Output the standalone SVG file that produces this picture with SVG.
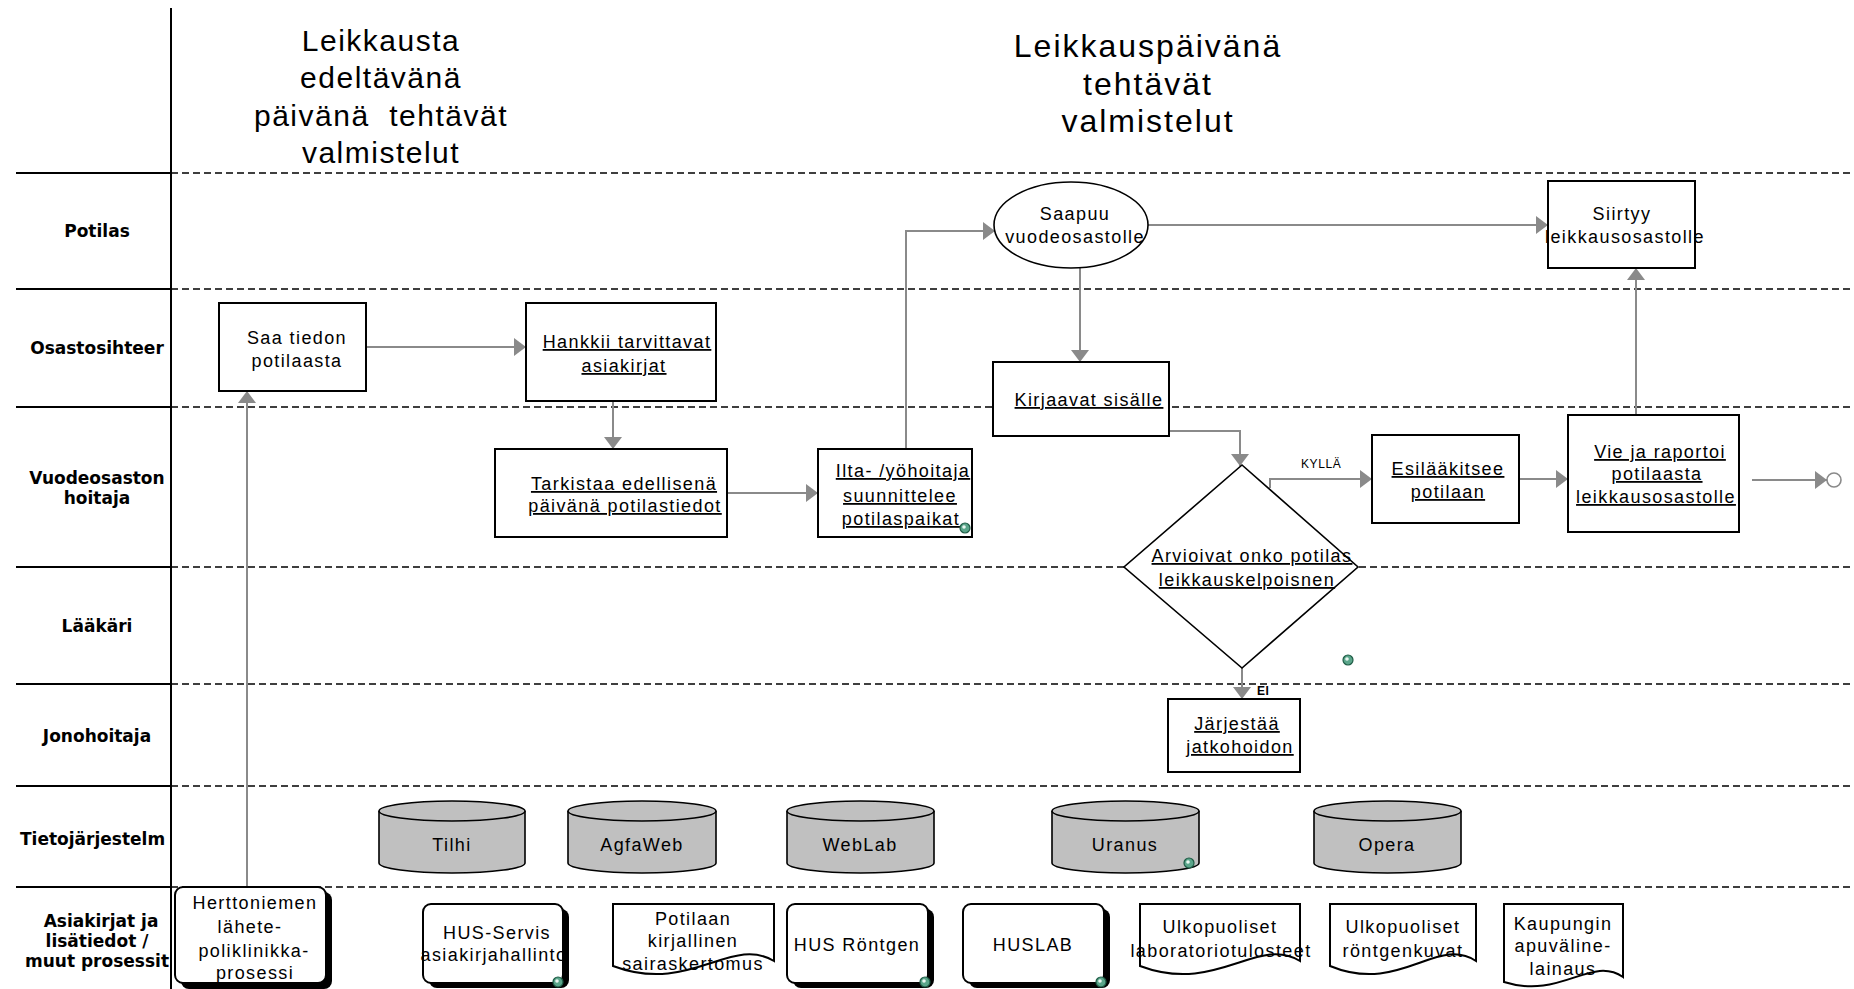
<svg xmlns="http://www.w3.org/2000/svg" width="1854" height="989" viewBox="0 0 1854 989">
  <style>
    .lane { font-family: "DejaVu Sans", "Liberation Sans", sans-serif; font-weight: bold; font-size: 17px; fill: #000; text-anchor: middle; }
    .title { font-family: "Liberation Sans", Arial, sans-serif; font-size: 30px; letter-spacing: 1.5px; fill: #000; text-anchor: middle; }
    .title2 { font-family: "Liberation Sans", Arial, sans-serif; font-size: 32px; letter-spacing: 2px; fill: #000; text-anchor: middle; }
    .t { font-family: "Liberation Sans", Arial, sans-serif; font-size: 18px; letter-spacing: 1.4px; fill: #000; text-anchor: middle; }
    .u { text-decoration: underline; }
    .small { font-family: "Liberation Sans", Arial, sans-serif; font-size: 12px; letter-spacing: 0.6px; fill: #000; }
    .box { fill: #fff; stroke: #000; stroke-width: 2; }
    .cyl { fill: #c0c0c0; stroke: #000; stroke-width: 1.6; }
    .shadow { fill: #000; }
    .solid { stroke: #000; stroke-width: 2; }
    .dash { stroke: #000; stroke-width: 1.6; stroke-dasharray: 7 4; }
    .conn { fill: none; stroke: #8a8a8a; stroke-width: 2; }
  </style>
  <defs>
    <marker id="ah" viewBox="0 0 12 18" refX="12" refY="9" markerWidth="12" markerHeight="18" markerUnits="userSpaceOnUse" orient="auto">
      <path d="M0,0 L12,9 L0,18 Z" fill="#8a8a8a"/>
    </marker>
    <symbol id="ico" viewBox="0 0 12 12">
      <circle cx="6" cy="6" r="5" fill="#5aa58a" stroke="#1f5c46" stroke-width="1.2"/>
      <circle cx="5" cy="5" r="1.8" fill="#e8f6ef"/>
    </symbol>
    <clipPath id="labelClip">
      <rect x="0" y="0" width="170" height="989"/>
    </clipPath>
  </defs>

  <rect x="0" y="0" width="1854" height="989" fill="#fff"/>

  <!-- swimlane grid -->
  <g id="lanes">
    <line class="solid" x1="171" y1="8" x2="171" y2="989"/>
    <line class="solid" x1="16" y1="173" x2="171" y2="173"/>
    <line class="solid" x1="16" y1="289" x2="171" y2="289"/>
    <line class="solid" x1="16" y1="407" x2="171" y2="407"/>
    <line class="solid" x1="16" y1="567" x2="171" y2="567"/>
    <line class="solid" x1="16" y1="684" x2="171" y2="684"/>
    <line class="solid" x1="16" y1="786" x2="171" y2="786"/>
    <line class="solid" x1="16" y1="887" x2="171" y2="887"/>
    <line class="dash" x1="171" y1="173" x2="1854" y2="173"/>
    <line class="dash" x1="171" y1="289" x2="1854" y2="289"/>
    <line class="dash" x1="171" y1="407" x2="1854" y2="407"/>
    <line class="dash" x1="171" y1="567" x2="1854" y2="567"/>
    <line class="dash" x1="171" y1="684" x2="1854" y2="684"/>
    <line class="dash" x1="171" y1="786" x2="1854" y2="786"/>
    <line class="dash" x1="171" y1="887" x2="1854" y2="887"/>
  </g>

  <!-- lane titles -->
  <g id="lane-labels" clip-path="url(#labelClip)">
    <text class="lane" x="97" y="237">Potilas</text>
    <text class="lane" x="97" y="354">Osastosihteer</text>
    <text class="lane" x="97" y="484">Vuodeosaston</text>
    <text class="lane" x="97" y="504">hoitaja</text>
    <text class="lane" x="97" y="632">Lääkäri</text>
    <text class="lane" x="97" y="742">Jonohoitaja</text>
    <text class="lane" x="20" y="845" style="text-anchor:start">Tietojärjestelm</text>
    <text class="lane" x="101" y="927">Asiakirjat ja</text>
    <text class="lane" x="97" y="947">lisätiedot /</text>
    <text class="lane" x="97" y="967">muut prosessit</text>
  </g>

  <!-- phase headings -->
  <g id="phase-1">
    <text class="title" x="381" y="51">Leikkausta</text>
    <text class="title" x="381" y="88">edeltävänä</text>
    <text class="title" x="381" y="126" xml:space="preserve">päivänä  tehtävät</text>
    <text class="title" x="381" y="163">valmistelut</text>
  </g>
  <g id="phase-2">
    <text class="title2" x="1148" y="57">Leikkauspäivänä</text>
    <text class="title2" x="1148" y="95">tehtävät</text>
    <text class="title2" x="1148" y="132">valmistelut</text>
  </g>

  <!-- connectors -->
  <g id="connectors">
    <path class="conn" d="M247,887 V391" marker-end="url(#ah)"/>
    <path class="conn" d="M366,347 H526" marker-end="url(#ah)"/>
    <path class="conn" d="M613,401 V449" marker-end="url(#ah)"/>
    <path class="conn" d="M727,493 H818" marker-end="url(#ah)"/>
    <path class="conn" d="M906,449 V231 H995" marker-end="url(#ah)"/>
    <path class="conn" d="M1148,225 H1548" marker-end="url(#ah)"/>
    <path class="conn" d="M1080,268 V362" marker-end="url(#ah)"/>
    <path class="conn" d="M1169,431 H1240 V466" marker-end="url(#ah)"/>
    <path class="conn" d="M1270,488 V479 H1372" marker-end="url(#ah)"/>
    <path class="conn" d="M1519,479 H1568" marker-end="url(#ah)"/>
    <path class="conn" d="M1636,415 V268" marker-end="url(#ah)"/>
    <path class="conn" d="M1242,668 V699" marker-end="url(#ah)"/>
    <path class="conn" d="M1752,480 H1827" marker-end="url(#ah)"/>
    <circle cx="1834" cy="480" r="7" fill="#fff" stroke="#8a8a8a" stroke-width="1.6"/>
    <text class="small" x="1301" y="468">KYLLÄ</text>
    <text class="small" x="1257" y="695" style="font-weight:bold">EI</text>
  </g>

  <!-- process steps -->
  <g id="saa-tiedon">
    <rect class="box" x="219" y="303" width="147" height="88"/>
    <text class="t" x="297" y="344">Saa tiedon</text>
    <text class="t" x="297" y="367">potilaasta</text>
  </g>
  <g id="hankkii">
    <rect class="box" x="526" y="303" width="190" height="98"/>
    <text class="t u" x="627" y="348">Hankkii tarvittavat</text>
    <text class="t u" x="624" y="372">asiakirjat</text>
  </g>
  <g id="tarkistaa">
    <rect class="box" x="495" y="449" width="232" height="88"/>
    <text class="t u" x="624" y="490">Tarkistaa edellisenä</text>
    <text class="t u" x="625" y="512">päivänä potilastiedot</text>
  </g>
  <g id="ilta">
    <rect class="box" x="818" y="449" width="154" height="88"/>
    <text class="t u" x="903" y="477">Ilta- /yöhoitaja</text>
    <text class="t u" x="900" y="502">suunnittelee</text>
    <text class="t u" x="901" y="525">potilaspaikat</text>
    <use href="#ico" x="959" y="522" width="12" height="12"/>
  </g>
  <g id="saapuu">
    <ellipse cx="1071" cy="225" rx="77" ry="43" fill="#fff" stroke="#000" stroke-width="1.6"/>
    <text class="t" x="1075" y="220">Saapuu</text>
    <text class="t" x="1075" y="243">vuodeosastolle</text>
  </g>
  <g id="kirjaavat">
    <rect class="box" x="993" y="362" width="176" height="74"/>
    <text class="t u" x="1089" y="406">Kirjaavat sisälle</text>
  </g>
  <g id="siirtyy">
    <rect class="box" x="1548" y="181" width="147" height="87"/>
    <text class="t" x="1622" y="220">Siirtyy</text>
    <text class="t" x="1625" y="243">leikkausosastolle</text>
  </g>
  <g id="arvioivat">
    <path d="M1242,465 L1358,567 L1242,668 L1124,567 Z" fill="#fff" stroke="#000" stroke-width="1.6"/>
    <text class="t u" x="1252" y="562">Arvioivat onko potilas</text>
    <text class="t u" x="1247" y="586">leikkauskelpoisnen</text>
  </g>
  <g id="esilaakitsee">
    <rect class="box" x="1372" y="435" width="147" height="88"/>
    <text class="t u" x="1448" y="475">Esilääkitsee</text>
    <text class="t u" x="1448" y="498">potilaan</text>
  </g>
  <g id="vie">
    <rect class="box" x="1568" y="415" width="171" height="117"/>
    <text class="t u" x="1660" y="458">Vie ja raportoi</text>
    <text class="t u" x="1657" y="480">potilaasta</text>
    <text class="t u" x="1656" y="503">leikkausosastolle</text>
  </g>
  <g id="jarjestaa">
    <rect class="box" x="1168" y="699" width="132" height="73"/>
    <text class="t u" x="1237" y="730">Järjestää</text>
    <text class="t u" x="1240" y="753">jatkohoidon</text>
  </g>
  <g id="note-icon">
    <use href="#ico" x="1342" y="654" width="12" height="12"/>
  </g>

  <!-- information systems -->
  <g id="tilhi">
    <path class="cyl" d="M379,811 A73,10 0 0 1 525,811 V863 A73,10 0 0 1 379,863 Z"/>
    <path class="cyl" d="M379,811 A73,10 0 0 0 525,811" fill="none"/>
    <text class="t" x="452" y="851">Tilhi</text>
  </g>
  <g id="agfaweb">
    <path class="cyl" d="M568,811 A74,10 0 0 1 716,811 V863 A74,10 0 0 1 568,863 Z"/>
    <path class="cyl" d="M568,811 A74,10 0 0 0 716,811" fill="none"/>
    <text class="t" x="642" y="851">AgfaWeb</text>
  </g>
  <g id="weblab">
    <path class="cyl" d="M787,811 A73.5,10 0 0 1 934,811 V863 A73.5,10 0 0 1 787,863 Z"/>
    <path class="cyl" d="M787,811 A73.5,10 0 0 0 934,811" fill="none"/>
    <text class="t" x="860" y="851">WebLab</text>
  </g>
  <g id="uranus">
    <path class="cyl" d="M1052,811 A73.5,10 0 0 1 1199,811 V863 A73.5,10 0 0 1 1052,863 Z"/>
    <path class="cyl" d="M1052,811 A73.5,10 0 0 0 1199,811" fill="none"/>
    <text class="t" x="1125" y="851">Uranus</text>
    <use href="#ico" x="1183" y="857" width="12" height="12"/>
  </g>
  <g id="opera">
    <path class="cyl" d="M1314,811 A73.5,10 0 0 1 1461,811 V863 A73.5,10 0 0 1 1314,863 Z"/>
    <path class="cyl" d="M1314,811 A73.5,10 0 0 0 1461,811" fill="none"/>
    <text class="t" x="1387" y="851">Opera</text>
  </g>

  <!-- documents and external processes -->
  <g id="herttoniemi">
    <rect class="shadow" x="181" y="892" width="151" height="97" rx="8"/>
    <rect class="box" x="175" y="887" width="151" height="96" rx="8"/>
    <text class="t" x="255" y="909">Herttoniemen</text>
    <text class="t" x="250" y="933">lähete-</text>
    <text class="t" x="254" y="957">poliklinikka-</text>
    <text class="t" x="255" y="979">prosessi</text>
  </g>
  <g id="hus-servis">
    <rect class="shadow" x="429" y="909" width="140" height="79" rx="8"/>
    <rect class="box" x="423" y="904" width="140" height="79" rx="8"/>
    <text class="t" x="497" y="939">HUS-Servis</text>
    <text class="t" x="494" y="961">asiakirjahallinto</text>
    <use href="#ico" x="552" y="976" width="12" height="12"/>
  </g>
  <g id="sairaskertomus">
    <path class="box" d="M613,904 H774 V961 C731,935 690,995 613,966 Z"/>
    <text class="t" x="693" y="925">Potilaan</text>
    <text class="t" x="693" y="947">kirjallinen</text>
    <text class="t" x="693" y="970">sairaskertomus</text>
  </g>
  <g id="hus-rontgen">
    <rect class="shadow" x="793" y="909" width="141" height="79" rx="8"/>
    <rect class="box" x="787" y="904" width="141" height="79" rx="8"/>
    <text class="t" x="857" y="951">HUS Röntgen</text>
    <use href="#ico" x="919" y="976" width="12" height="12"/>
  </g>
  <g id="huslab">
    <rect class="shadow" x="969" y="909" width="141" height="79" rx="8"/>
    <rect class="box" x="963" y="904" width="141" height="79" rx="8"/>
    <text class="t" x="1033" y="951">HUSLAB</text>
    <use href="#ico" x="1095" y="976" width="12" height="12"/>
  </g>
  <g id="ulko-lab">
    <path class="box" d="M1140,904 H1300 V961 C1257,935 1217,995 1140,966 Z"/>
    <text class="t" x="1220" y="933">Ulkopuoliset</text>
    <text class="t" x="1221" y="957">laboratoriotulosteet</text>
  </g>
  <g id="ulko-rontgen">
    <path class="box" d="M1330,904 H1476 V961 C1437,935 1400,995 1330,966 Z"/>
    <text class="t" x="1403" y="933">Ulkopuoliset</text>
    <text class="t" x="1403" y="957">röntgenkuvat</text>
  </g>
  <g id="apuvaline">
    <path class="box" d="M1504,904 H1623 V977 C1591,955 1561,1000 1504,982 Z"/>
    <text class="t" x="1563" y="930">Kaupungin</text>
    <text class="t" x="1563" y="952">apuväline-</text>
    <text class="t" x="1563" y="975">lainaus</text>
  </g>
</svg>
